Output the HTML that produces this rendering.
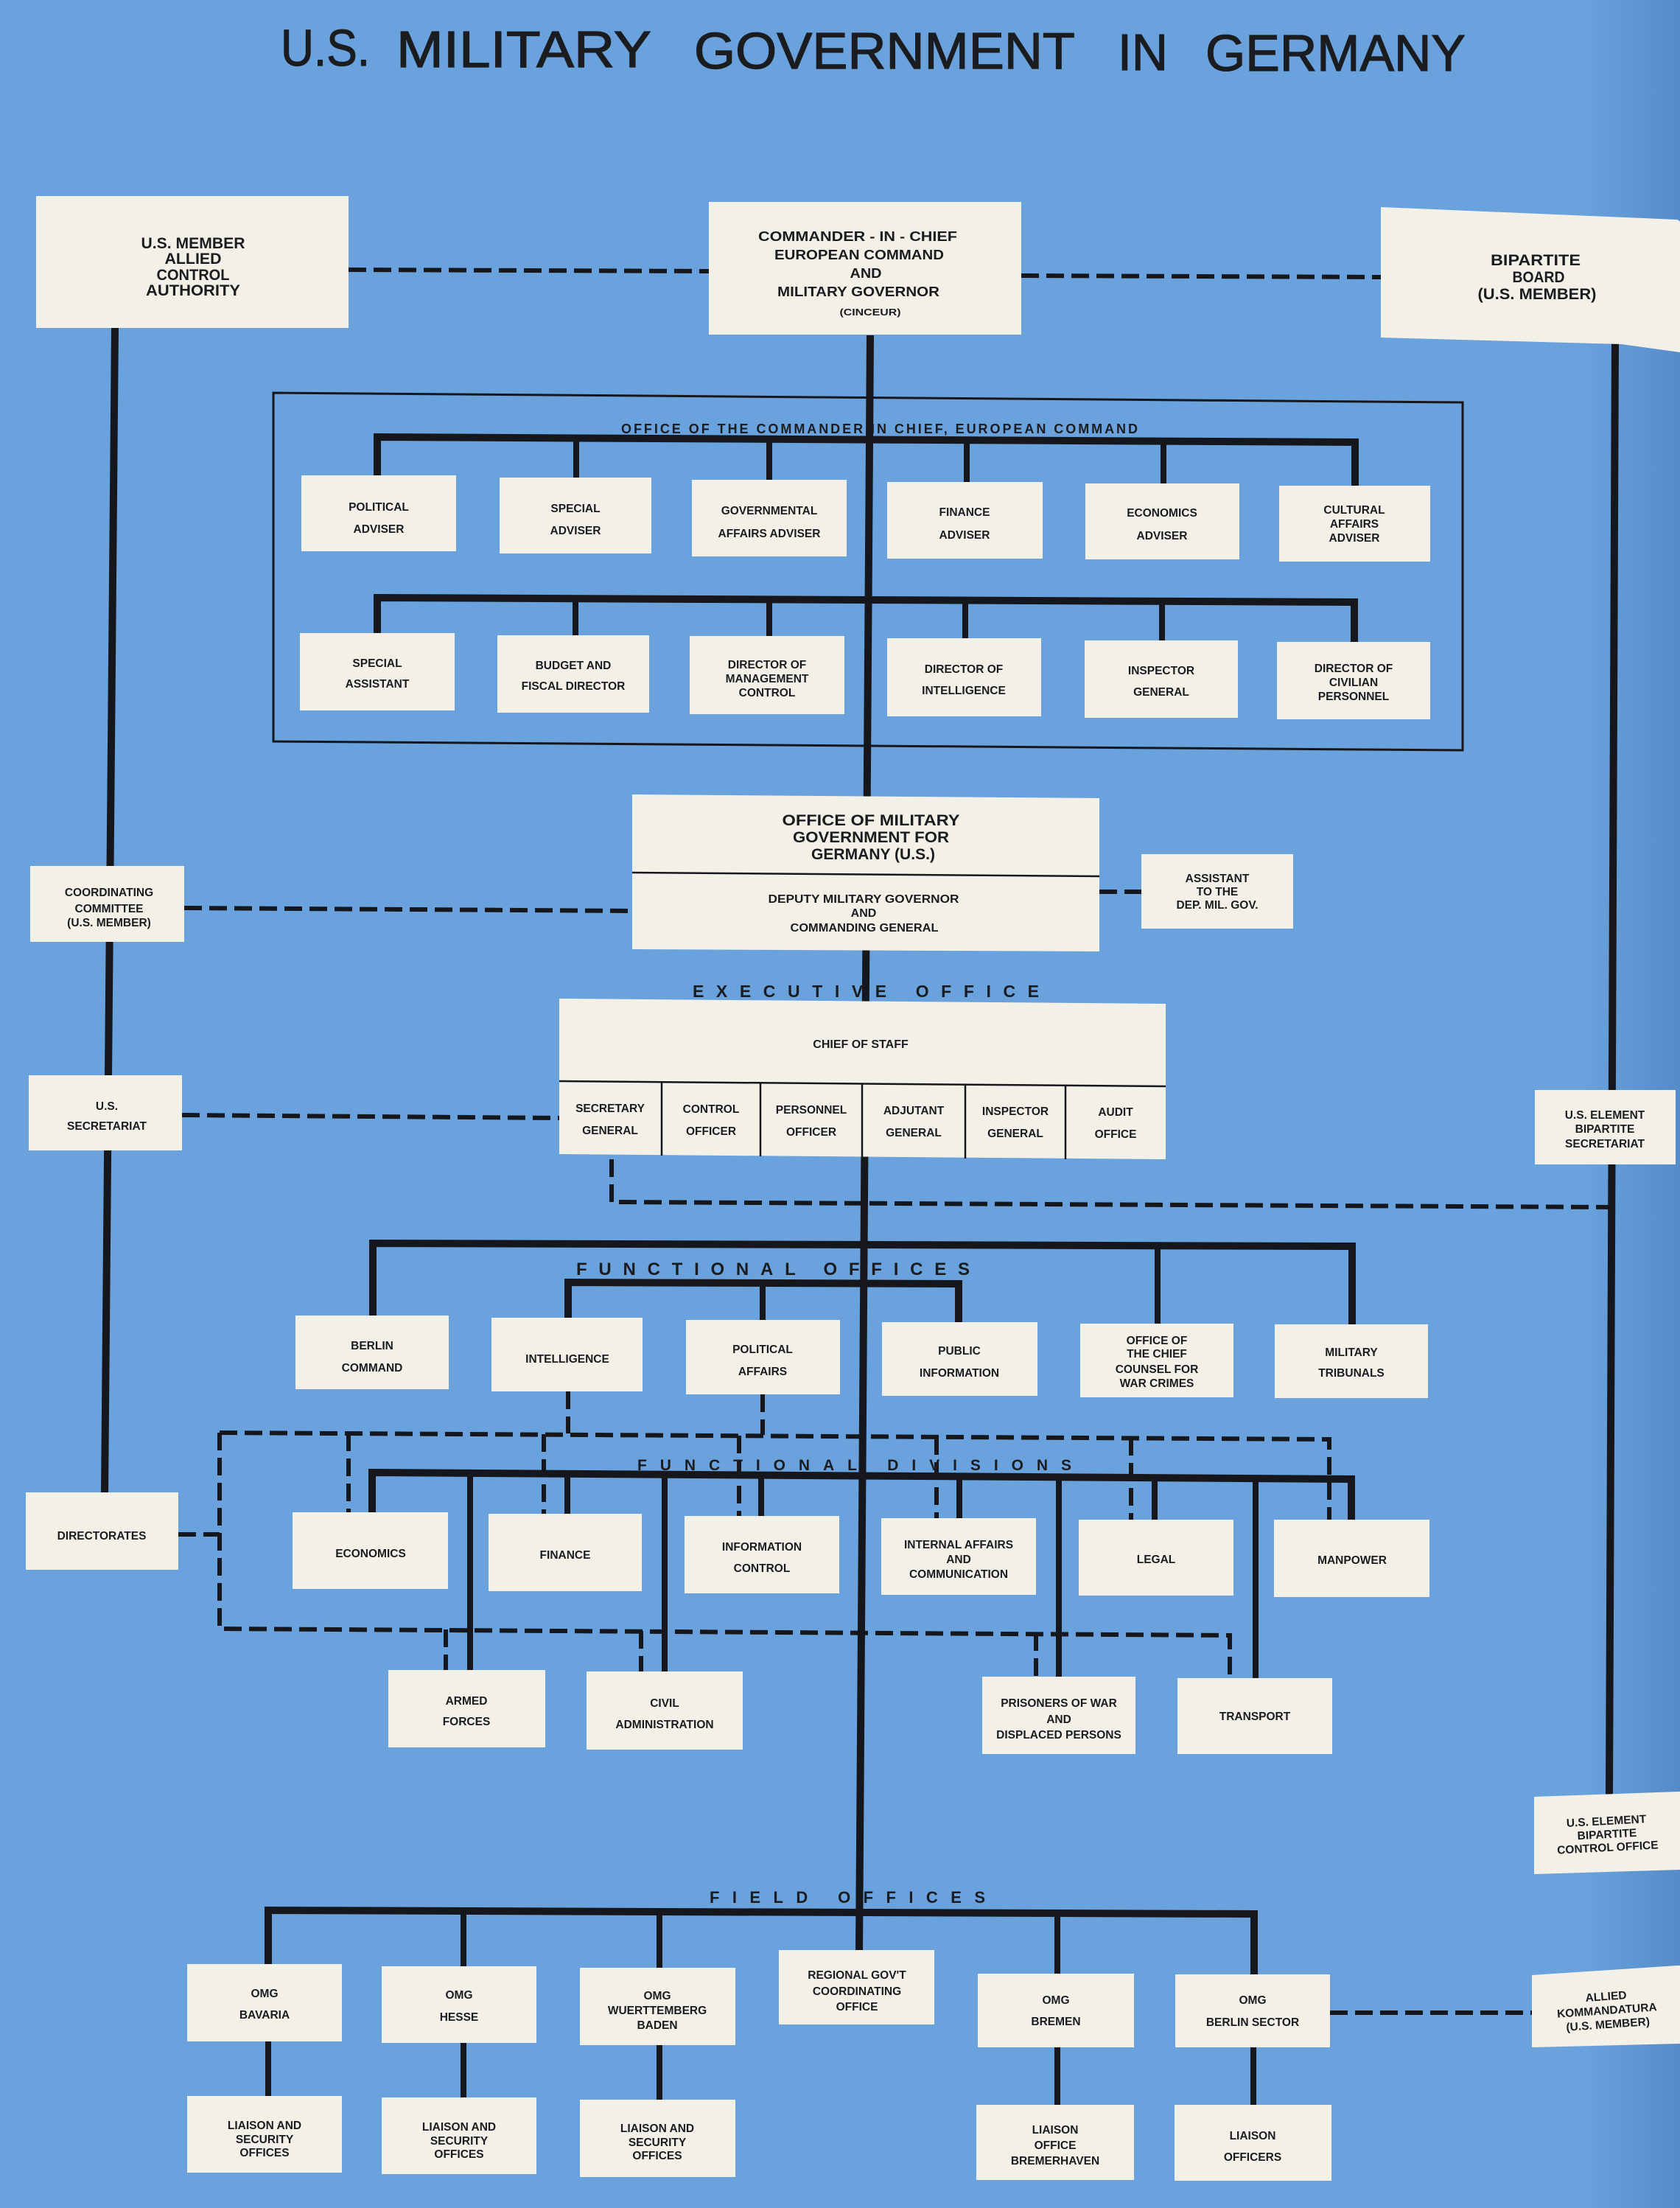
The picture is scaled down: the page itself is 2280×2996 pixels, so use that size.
<!DOCTYPE html>
<html>
<head>
<meta charset="utf-8">
<style>
html,body{margin:0;padding:0;background:#6aa2dd;}
svg{display:block;}
.bx{fill:#f3f1e7;}
.t{font-family:"Liberation Sans",Arial,sans-serif;font-weight:bold;font-size:15.5px;fill:#1b1c1f;text-anchor:middle;}
.tl{font-family:"Liberation Sans",Arial,sans-serif;font-weight:bold;fill:#1b1c1f;}
.ln{stroke:#15171c;fill:none;stroke-linecap:butt;stroke-linejoin:miter;}
.dd{stroke:#15171c;fill:none;stroke-width:6;stroke-dasharray:24 10;}
</style>
</head>
<body>
<svg xmlns="http://www.w3.org/2000/svg" width="2280" height="2996" viewBox="0 0 2280 2996">
<defs>
<linearGradient id="rg" x1="0" y1="0" x2="1" y2="0">
<stop offset="0" stop-color="#3a6fb0" stop-opacity="0"/>
<stop offset="1" stop-color="#3a6fb0" stop-opacity="0.45"/>
</linearGradient>
</defs>
<rect x="0" y="0" width="2280" height="2996" fill="#6aa2dd"/>
<rect x="2150" y="0" width="130" height="2996" fill="url(#rg)"/>

<!-- TITLE -->
<g class="tl" style="font-weight:normal;font-size:70px;stroke:#1b1c1f;stroke-width:1.2">
<text x="381" y="89" textLength="121" lengthAdjust="spacingAndGlyphs">U.S.</text>
<text x="538" y="91" textLength="346" lengthAdjust="spacingAndGlyphs">MILITARY</text>
<text x="942" y="93" textLength="517" lengthAdjust="spacingAndGlyphs">GOVERNMENT</text>
<text x="1517" y="95" textLength="68" lengthAdjust="spacingAndGlyphs">IN</text>
<text x="1636" y="96" textLength="353" lengthAdjust="spacingAndGlyphs">GERMANY</text>
</g>

<!-- TRUNK LINES -->
<line class="ln" x1="156" y1="445" x2="142" y2="2026" stroke-width="10"/>
<line class="ln" x1="1181" y1="455" x2="1166" y2="2648" stroke-width="10"/>
<line class="ln" x1="2192" y1="465" x2="2184" y2="2436" stroke-width="10"/>

<!-- DASHED CONNECTORS -->
<path class="dd" d="M473,366 L962,368"/>
<path class="dd" d="M1386,374 L1874,376"/>
<path class="dd" d="M250,1232 L858,1236"/>
<path class="dd" d="M1492,1210 L1549,1210"/>
<path class="dd" d="M247,1513 L759,1517"/>
<path class="dd" d="M830,1573 L830,1631 L2187,1638"/>
<path class="dd" d="M771,1888 L771,1945"/>
<path class="dd" d="M1035,1892 L1035,1947"/>
<path class="dd" d="M298,1944 L1804,1953 L1804,2062"/>
<path class="dd" d="M298,1944 L298,2210 L1669,2219 L1669,2277"/>
<path class="dd" d="M473,1945 L473,2052"/>
<path class="dd" d="M738,1946 L738,2054"/>
<path class="dd" d="M1003,1948 L1003,2057"/>
<path class="dd" d="M1271,1950 L1271,2060"/>
<path class="dd" d="M1535,1951 L1535,2062"/>
<path class="dd" d="M605,2211 L605,2266"/>
<path class="dd" d="M870,2213 L870,2269"/>
<path class="dd" d="M1406,2216 L1406,2275"/>
<path class="dd" d="M242,2082 L298,2082"/>
<path class="dd" d="M1805,2731 L2079,2731"/>

<!-- OFFICE OF CINC BORDER -->
<polygon points="371,533 1985,546 1985,1018 371,1006" fill="none" stroke="#15171c" stroke-width="3"/>
<text class="tl" x="843" y="588" font-size="18" textLength="701" lengthAdjust="spacing">OFFICE OF THE COMMANDER IN CHIEF, EUROPEAN COMMAND</text>

<!-- BUS 1 -->
<path class="ln" stroke-width="10" d="M512,646 L512,593 L1839,600 L1839,660"/>
<g class="ln" stroke-width="8">
<line x1="782" y1="595" x2="782" y2="649"/>
<line x1="1044" y1="596" x2="1044" y2="652"/>
<line x1="1312" y1="597" x2="1312" y2="655"/>
<line x1="1579" y1="598" x2="1579" y2="657"/>
</g>
<!-- BUS 2 -->
<path class="ln" stroke-width="10" d="M512,860 L512,811 L1838,817 L1838,872"/>
<g class="ln" stroke-width="8">
<line x1="781" y1="812" x2="781" y2="863"/>
<line x1="1044" y1="813" x2="1044" y2="864"/>
<line x1="1310" y1="814" x2="1310" y2="867"/>
<line x1="1577" y1="816" x2="1577" y2="870"/>
</g>

<!-- FUNCTIONAL OFFICES BUSES -->
<path class="ln" stroke-width="10" d="M506,1786 L506,1687 L1835,1691 L1835,1798"/>
<line class="ln" stroke-width="8" x1="1571" y1="1690" x2="1571" y2="1797"/>
<path class="ln" stroke-width="10" d="M771,1789 L771,1740 L1301,1742 L1301,1795"/>
<line class="ln" stroke-width="8" x1="1035" y1="1741" x2="1035" y2="1792"/>

<!-- FUNCTIONAL DIVISIONS BUS -->
<path class="ln" stroke-width="10" d="M505,2053 L505,1998 L1834,2007 L1834,2063"/>
<g class="ln" stroke-width="8">
<line x1="770" y1="2000" x2="770" y2="2055"/>
<line x1="1033" y1="2002" x2="1033" y2="2058"/>
<line x1="1302" y1="2004" x2="1302" y2="2061"/>
<line x1="1567" y1="2006" x2="1567" y2="2063"/>
<line x1="638" y1="1999" x2="638" y2="2267"/>
<line x1="902" y1="2001" x2="902" y2="2270"/>
<line x1="1437" y1="2005" x2="1437" y2="2276"/>
<line x1="1704" y1="2007" x2="1704" y2="2278"/>
</g>

<!-- FIELD BUS -->
<path class="ln" stroke-width="10" d="M364,2666 L364,2592 L1702,2597 L1702,2679"/>
<g class="ln" stroke-width="8">
<line x1="629" y1="2593" x2="629" y2="2669"/>
<line x1="895" y1="2594" x2="895" y2="2672"/>
<line x1="1435" y1="2596" x2="1435" y2="2678"/>
<line x1="364" y1="2769" x2="364" y2="2846"/>
<line x1="629" y1="2771" x2="629" y2="2848"/>
<line x1="895" y1="2774" x2="895" y2="2851"/>
<line x1="1435" y1="2776" x2="1435" y2="2857"/>
<line x1="1701" y1="2777" x2="1701" y2="2857"/>
</g>

<!-- TOP BOXES -->
<rect class="bx" x="49" y="266" width="424" height="179"/>
<g class="t" style="font-size:21px">
<text x="262" y="337" textLength="141" lengthAdjust="spacingAndGlyphs">U.S. MEMBER</text>
<text x="262" y="358" textLength="77" lengthAdjust="spacingAndGlyphs">ALLIED</text>
<text x="262" y="380" textLength="99" lengthAdjust="spacingAndGlyphs">CONTROL</text>
<text x="262" y="401" textLength="128" lengthAdjust="spacingAndGlyphs">AUTHORITY</text>
</g>

<rect class="bx" x="962" y="274" width="424" height="180"/>
<g class="t" style="font-size:18px">
<text x="1164" y="327" textLength="270" lengthAdjust="spacingAndGlyphs">COMMANDER - IN - CHIEF</text>
<text x="1166" y="352" textLength="230" lengthAdjust="spacingAndGlyphs">EUROPEAN COMMAND</text>
<text x="1175" y="377" textLength="43" lengthAdjust="spacingAndGlyphs">AND</text>
<text x="1165" y="402" textLength="220" lengthAdjust="spacingAndGlyphs">MILITARY GOVERNOR</text>
<text x="1181" y="428" style="font-size:12.5px" textLength="83" lengthAdjust="spacingAndGlyphs">(CINCEUR)</text>
</g>

<path class="bx" d="M1874,281 L2276,298 Q2279,299 2280,301 L2280,478 L2200,467 L1874,458 Z"/>
<g class="t" style="font-size:21px">
<text x="2084" y="360" textLength="122" lengthAdjust="spacingAndGlyphs">BIPARTITE</text>
<text x="2088" y="383" textLength="71" lengthAdjust="spacingAndGlyphs">BOARD</text>
<text x="2086" y="406" textLength="161" lengthAdjust="spacingAndGlyphs">(U.S. MEMBER)</text>
</g>

<!-- ROW 1 -->
<rect class="bx" x="409" y="645" width="210" height="103"/>
<text class="t" x="514" y="693">POLITICAL</text><text class="t" x="514" y="723">ADVISER</text>
<rect class="bx" x="678" y="648" width="206" height="103"/>
<text class="t" x="781" y="695">SPECIAL</text><text class="t" x="781" y="725">ADVISER</text>
<rect class="bx" x="939" y="651" width="210" height="104"/>
<text class="t" x="1044" y="698">GOVERNMENTAL</text><text class="t" x="1044" y="729">AFFAIRS ADVISER</text>
<rect class="bx" x="1204" y="654" width="211" height="104"/>
<text class="t" x="1309" y="700">FINANCE</text><text class="t" x="1309" y="731">ADVISER</text>
<rect class="bx" x="1473" y="656" width="209" height="103"/>
<text class="t" x="1577" y="701">ECONOMICS</text><text class="t" x="1577" y="732">ADVISER</text>
<rect class="bx" x="1736" y="659" width="205" height="103"/>
<text class="t" x="1838" y="697">CULTURAL</text><text class="t" x="1838" y="716">AFFAIRS</text><text class="t" x="1838" y="735">ADVISER</text>

<!-- ROW 2 -->
<rect class="bx" x="407" y="859" width="210" height="105"/>
<text class="t" x="512" y="905">SPECIAL</text><text class="t" x="512" y="933">ASSISTANT</text>
<rect class="bx" x="675" y="862" width="206" height="105"/>
<text class="t" x="778" y="908">BUDGET AND</text><text class="t" x="778" y="936">FISCAL DIRECTOR</text>
<rect class="bx" x="936" y="863" width="210" height="106"/>
<text class="t" x="1041" y="907">DIRECTOR OF</text><text class="t" x="1041" y="926">MANAGEMENT</text><text class="t" x="1041" y="945">CONTROL</text>
<rect class="bx" x="1204" y="866" width="209" height="106"/>
<text class="t" x="1308" y="913">DIRECTOR OF</text><text class="t" x="1308" y="942">INTELLIGENCE</text>
<rect class="bx" x="1472" y="869" width="208" height="105"/>
<text class="t" x="1576" y="915">INSPECTOR</text><text class="t" x="1576" y="944">GENERAL</text>
<rect class="bx" x="1733" y="871" width="208" height="105"/>
<text class="t" x="1837" y="912">DIRECTOR OF</text><text class="t" x="1837" y="931">CIVILIAN</text><text class="t" x="1837" y="950">PERSONNEL</text>

<!-- OMGUS -->
<polygon class="bx" points="858,1078 1492,1083 1492,1291 858,1288"/>
<line x1="858" y1="1184" x2="1492" y2="1189" stroke="#15171c" stroke-width="2.5"/>
<g class="t" style="font-size:21px">
<text x="1182" y="1120" textLength="241" lengthAdjust="spacingAndGlyphs">OFFICE OF MILITARY</text>
<text x="1182" y="1143" textLength="212" lengthAdjust="spacingAndGlyphs">GOVERNMENT FOR</text>
<text x="1185" y="1166" textLength="168" lengthAdjust="spacingAndGlyphs">GERMANY (U.S.)</text>
</g>
<g class="t" style="font-size:16px">
<text x="1172" y="1225" textLength="259" lengthAdjust="spacingAndGlyphs">DEPUTY MILITARY GOVERNOR</text>
<text x="1172" y="1244">AND</text>
<text x="1173" y="1264" textLength="201" lengthAdjust="spacingAndGlyphs">COMMANDING GENERAL</text>
</g>

<rect class="bx" x="1549" y="1159" width="206" height="101"/>
<text class="t" x="1652" y="1197">ASSISTANT</text><text class="t" x="1652" y="1215">TO THE</text><text class="t" x="1652" y="1233">DEP. MIL. GOV.</text>

<rect class="bx" x="41" y="1175" width="209" height="103"/>
<text class="t" x="148" y="1216">COORDINATING</text><text class="t" x="148" y="1238">COMMITTEE</text><text class="t" x="148" y="1257">(U.S. MEMBER)</text>

<rect class="bx" x="39" y="1459" width="208" height="102"/>
<text class="t" x="145" y="1506">U.S.</text><text class="t" x="145" y="1533">SECRETARIAT</text>

<!-- EXECUTIVE OFFICE -->
<text class="tl" x="940" y="1353" font-size="23" textLength="470" lengthAdjust="spacing">EXECUTIVE OFFICE</text>
<polygon class="bx" points="759,1355 1582,1362 1582,1573 759,1566"/>
<line x1="759" y1="1467" x2="1582" y2="1474" stroke="#15171c" stroke-width="2.5"/>
<g stroke="#15171c" stroke-width="2.5">
<line x1="898" y1="1468" x2="898" y2="1568"/>
<line x1="1032" y1="1469" x2="1032" y2="1569"/>
<line x1="1170" y1="1470" x2="1170" y2="1570"/>
<line x1="1310" y1="1472" x2="1310" y2="1572"/>
<line x1="1446" y1="1473" x2="1446" y2="1573"/>
</g>
<text class="t" x="1168" y="1422" style="font-size:16px">CHIEF OF STAFF</text>
<text class="t" x="828" y="1509">SECRETARY</text><text class="t" x="828" y="1539">GENERAL</text>
<text class="t" x="965" y="1510">CONTROL</text><text class="t" x="965" y="1540">OFFICER</text>
<text class="t" x="1101" y="1511">PERSONNEL</text><text class="t" x="1101" y="1541">OFFICER</text>
<text class="t" x="1240" y="1512">ADJUTANT</text><text class="t" x="1240" y="1542">GENERAL</text>
<text class="t" x="1378" y="1513">INSPECTOR</text><text class="t" x="1378" y="1543">GENERAL</text>
<text class="t" x="1514" y="1514">AUDIT</text><text class="t" x="1514" y="1544">OFFICE</text>

<rect class="bx" x="2083" y="1479" width="191" height="101"/>
<text class="t" x="2178" y="1518">U.S. ELEMENT</text><text class="t" x="2178" y="1537">BIPARTITE</text><text class="t" x="2178" y="1557">SECRETARIAT</text>

<!-- FUNCTIONAL OFFICES -->
<text class="tl" x="782" y="1730" font-size="24" textLength="534" lengthAdjust="spacing">FUNCTIONAL OFFICES</text>
<rect class="bx" x="401" y="1785" width="208" height="100"/>
<text class="t" x="505" y="1831">BERLIN</text><text class="t" x="505" y="1861">COMMAND</text>
<rect class="bx" x="667" y="1788" width="205" height="100"/>
<text class="t" x="770" y="1849">INTELLIGENCE</text>
<rect class="bx" x="931" y="1791" width="209" height="101"/>
<text class="t" x="1035" y="1836">POLITICAL</text><text class="t" x="1035" y="1866">AFFAIRS</text>
<rect class="bx" x="1197" y="1794" width="211" height="100"/>
<text class="t" x="1302" y="1838">PUBLIC</text><text class="t" x="1302" y="1868">INFORMATION</text>
<rect class="bx" x="1466" y="1796" width="208" height="100"/>
<text class="t" x="1570" y="1824">OFFICE OF</text><text class="t" x="1570" y="1842">THE CHIEF</text><text class="t" x="1570" y="1863">COUNSEL FOR</text><text class="t" x="1570" y="1882">WAR CRIMES</text>
<rect class="bx" x="1730" y="1797" width="208" height="100"/>
<text class="t" x="1834" y="1840">MILITARY</text><text class="t" x="1834" y="1868">TRIBUNALS</text>

<!-- FUNCTIONAL DIVISIONS -->
<text class="tl" x="865" y="1995" font-size="21" textLength="589" lengthAdjust="spacing">FUNCTIONAL DIVISIONS</text>
<rect class="bx" x="35" y="2025" width="207" height="105"/>
<text class="t" x="138" y="2089">DIRECTORATES</text>

<rect class="bx" x="397" y="2052" width="211" height="104"/>
<text class="t" x="503" y="2113">ECONOMICS</text>
<rect class="bx" x="663" y="2054" width="208" height="105"/>
<text class="t" x="767" y="2115">FINANCE</text>
<rect class="bx" x="929" y="2057" width="210" height="105"/>
<text class="t" x="1034" y="2104">INFORMATION</text><text class="t" x="1034" y="2133">CONTROL</text>
<rect class="bx" x="1196" y="2060" width="210" height="104"/>
<text class="t" x="1301" y="2101">INTERNAL AFFAIRS</text><text class="t" x="1301" y="2121">AND</text><text class="t" x="1301" y="2141">COMMUNICATION</text>
<rect class="bx" x="1464" y="2062" width="210" height="103"/>
<text class="t" x="1569" y="2121">LEGAL</text>
<rect class="bx" x="1729" y="2062" width="211" height="105"/>
<text class="t" x="1835" y="2122">MANPOWER</text>

<rect class="bx" x="527" y="2266" width="213" height="105"/>
<text class="t" x="633" y="2313">ARMED</text><text class="t" x="633" y="2341">FORCES</text>
<rect class="bx" x="796" y="2268" width="212" height="106"/>
<text class="t" x="902" y="2316">CIVIL</text><text class="t" x="902" y="2345">ADMINISTRATION</text>
<rect class="bx" x="1333" y="2275" width="208" height="105"/>
<text class="t" x="1437" y="2316">PRISONERS OF WAR</text><text class="t" x="1437" y="2338">AND</text><text class="t" x="1437" y="2359">DISPLACED PERSONS</text>
<rect class="bx" x="1598" y="2277" width="210" height="103"/>
<text class="t" x="1703" y="2334">TRANSPORT</text>

<!-- BIPARTITE CONTROL OFFICE -->
<polygon class="bx" points="2082,2438 2278,2431 2280,2431 2280,2537 2082,2543"/>
<g transform="rotate(-3 2181 2490)">
<text class="t" x="2181" y="2476">U.S. ELEMENT</text><text class="t" x="2181" y="2494">BIPARTITE</text><text class="t" x="2181" y="2512">CONTROL OFFICE</text>
</g>

<!-- FIELD OFFICES -->
<text class="tl" x="963" y="2582" font-size="22" textLength="374" lengthAdjust="spacing">FIELD OFFICES</text>
<rect class="bx" x="254" y="2665" width="210" height="105"/>
<text class="t" x="359" y="2710">OMG</text><text class="t" x="359" y="2739">BAVARIA</text>
<rect class="bx" x="518" y="2668" width="210" height="104"/>
<text class="t" x="623" y="2712">OMG</text><text class="t" x="623" y="2742">HESSE</text>
<rect class="bx" x="787" y="2670" width="211" height="105"/>
<text class="t" x="892" y="2713">OMG</text><text class="t" x="892" y="2733">WUERTTEMBERG</text><text class="t" x="892" y="2753">BADEN</text>
<rect class="bx" x="1057" y="2646" width="211" height="101"/>
<text class="t" x="1163" y="2685">REGIONAL GOV'T</text><text class="t" x="1163" y="2707">COORDINATING</text><text class="t" x="1163" y="2728">OFFICE</text>
<rect class="bx" x="1327" y="2678" width="212" height="100"/>
<text class="t" x="1433" y="2719">OMG</text><text class="t" x="1433" y="2748">BREMEN</text>
<rect class="bx" x="1595" y="2679" width="210" height="99"/>
<text class="t" x="1700" y="2719">OMG</text><text class="t" x="1700" y="2749">BERLIN SECTOR</text>

<polygon class="bx" points="2079,2680 2276,2667 2280,2667 2280,2773 2079,2778"/>
<g transform="rotate(-4 2181 2730)">
<text class="t" x="2181" y="2714">ALLIED</text><text class="t" x="2181" y="2733">KOMMANDATURA</text><text class="t" x="2181" y="2752">(U.S. MEMBER)</text>
</g>

<rect class="bx" x="254" y="2844" width="210" height="104"/>
<text class="t" x="359" y="2889">LIAISON AND</text><text class="t" x="359" y="2908">SECURITY</text><text class="t" x="359" y="2926">OFFICES</text>
<rect class="bx" x="518" y="2846" width="210" height="104"/>
<text class="t" x="623" y="2891">LIAISON AND</text><text class="t" x="623" y="2910">SECURITY</text><text class="t" x="623" y="2928">OFFICES</text>
<rect class="bx" x="787" y="2849" width="211" height="105"/>
<text class="t" x="892" y="2893">LIAISON AND</text><text class="t" x="892" y="2912">SECURITY</text><text class="t" x="892" y="2930">OFFICES</text>
<rect class="bx" x="1325" y="2856" width="214" height="102"/>
<text class="t" x="1432" y="2895">LIAISON</text><text class="t" x="1432" y="2916">OFFICE</text><text class="t" x="1432" y="2937">BREMERHAVEN</text>
<rect class="bx" x="1594" y="2856" width="213" height="103"/>
<text class="t" x="1700" y="2903">LIAISON</text><text class="t" x="1700" y="2932">OFFICERS</text>
</svg>
</body>
</html>
